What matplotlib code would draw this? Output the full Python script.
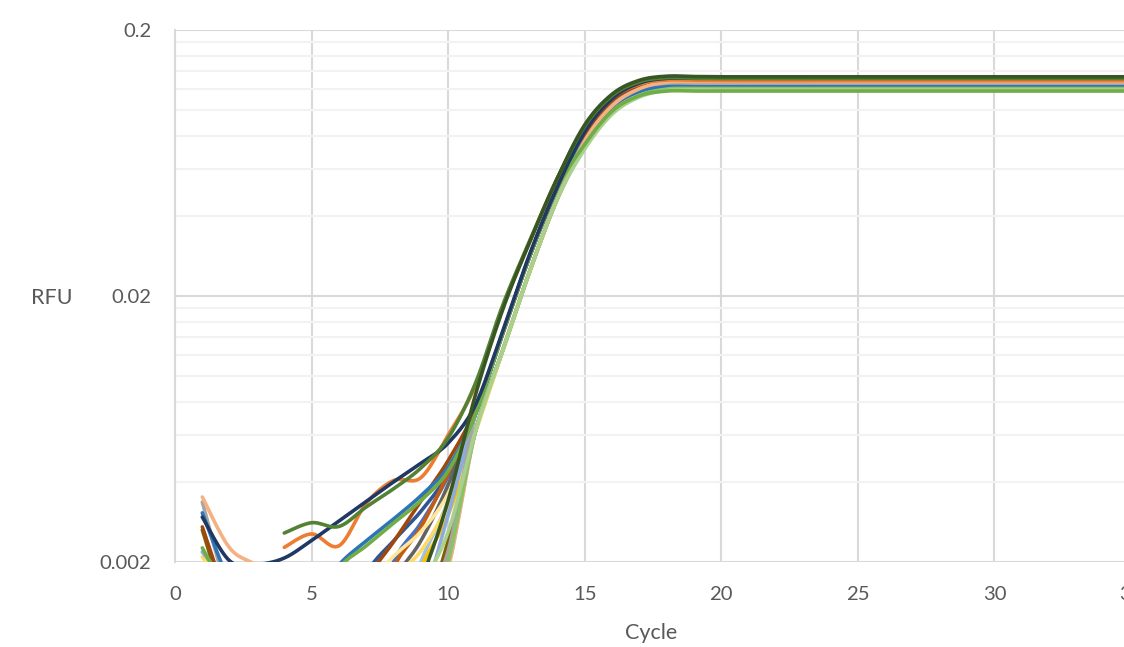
import numpy as np
import matplotlib
matplotlib.use("Agg")
import matplotlib.pyplot as plt
from matplotlib.ticker import FixedLocator, NullFormatter

nan = float("nan")

# RFU per cycle (cycles 1..35)
cycles = list(range(1, 36))

rfu_01 = [nan, nan, nan, 0.00257, 0.00281, 0.00272, 0.00322, 0.00377, 0.00451, 0.00585,
          0.0094, 0.0185, 0.0325, 0.0555, 0.0869, 0.1132, 0.1277, 0.1323, 0.1319, 0.1316,
          0.1316, 0.1316, 0.1316, 0.1316, 0.1316, 0.1316, 0.1316, 0.1316, 0.1316, 0.1316,
          0.1316, 0.1316, 0.1316, 0.1316, 0.1316]
rfu_02 = [nan, nan, nan, 0.00227, 0.00255, 0.00230, 0.00332, 0.00405, 0.00415, 0.0060,
          0.0092, 0.0182, 0.0322, 0.0555, 0.0852, 0.1110, 0.1252, 0.1297, 0.1294, 0.1291,
          0.1291, 0.1291, 0.1291, 0.1291, 0.1291, 0.1291, 0.1291, 0.1291, 0.1291, 0.1291,
          0.1291, 0.1291, 0.1291, 0.1291, 0.1291]
rfu_03 = [0.00295, 0.00202, 0.00196, 0.00207, 0.00241, 0.00285, 0.00338, 0.0040, 0.0047, 0.0056,
          0.0078, 0.0148, 0.0290, 0.0515, 0.0829, 0.1105, 0.1263, 0.1316, 0.1316, 0.1316,
          0.1316, 0.1316, 0.1316, 0.1316, 0.1316, 0.1316, 0.1316, 0.1316, 0.1316, 0.1316,
          0.1316, 0.1316, 0.1316, 0.1316, 0.1316]
rfu_04 = [0.00351, 0.00226, 0.00194, 0.0016, 0.0012, 0.0010, 0.0010, 0.0010, 0.0011, 0.0019,
          0.0062, 0.0125, 0.0250, 0.0465, 0.0767, 0.1036, 0.1202, 0.1273, 0.1279, 0.1279,
          0.1279, 0.1279, 0.1279, 0.1279, 0.1279, 0.1279, 0.1279, 0.1279, 0.1279, 0.1279,
          0.1279, 0.1279, 0.1279, 0.1279, 0.1279]
rfu_05 = [0.00336, 0.0015, 0.0011, 0.0010, 0.0010, 0.0010, 0.0010, 0.0010, 0.0013, 0.0022,
          0.0072, 0.0145, 0.0285, 0.0510, 0.0796, 0.1062, 0.1213, 0.1264, 0.1264, 0.1264,
          0.1264, 0.1264, 0.1264, 0.1264, 0.1264, 0.1264, 0.1264, 0.1264, 0.1264, 0.1264,
          0.1264, 0.1264, 0.1264, 0.1264, 0.1264]
rfu_06 = [0.00306, 0.0017, 0.0013, 0.0012, 0.0014, 0.00195, 0.0024, 0.0029, 0.00355, 0.00455,
          0.0072, 0.0145, 0.0285, 0.0510, 0.0771, 0.1028, 0.1175, 0.1224, 0.1224, 0.1224,
          0.1224, 0.1224, 0.1224, 0.1224, 0.1224, 0.1224, 0.1224, 0.1224, 0.1224, 0.1224,
          0.1224, 0.1224, 0.1224, 0.1224, 0.1224]
rfu_07 = [0.00271, 0.0014, 0.0010, 0.0010, 0.0010, 0.0010, 0.0017, 0.00238, 0.00339, 0.00481,
          0.0075, 0.0145, 0.0285, 0.0510, 0.0813, 0.1084, 0.1239, 0.1291, 0.1291, 0.1291,
          0.1291, 0.1291, 0.1291, 0.1291, 0.1291, 0.1291, 0.1291, 0.1291, 0.1291, 0.1291,
          0.1291, 0.1291, 0.1291, 0.1291, 0.1291]
rfu_08 = [0.00264, 0.0013, 0.0010, 0.0010, 0.0010, 0.0010, 0.0010, 0.0010, 0.0012, 0.0024,
          0.0062, 0.0125, 0.0250, 0.0465, 0.0741, 0.1000, 0.1161, 0.1229, 0.1235, 0.1235,
          0.1235, 0.1235, 0.1235, 0.1235, 0.1235, 0.1235, 0.1235, 0.1235, 0.1235, 0.1235,
          0.1235, 0.1235, 0.1235, 0.1235, 0.1235]
rfu_09 = [0.00226, 0.0015, 0.0012, 0.0011, 0.0013, 0.0019, 0.0023, 0.0028, 0.0034, 0.0044,
          0.0072, 0.0145, 0.0285, 0.0510, 0.0743, 0.0990, 0.1132, 0.1179, 0.1179, 0.1179,
          0.1179, 0.1179, 0.1179, 0.1179, 0.1179, 0.1179, 0.1179, 0.1179, 0.1179, 0.1179,
          0.1179, 0.1179, 0.1179, 0.1179, 0.1179]
rfu_10 = [0.00218, 0.0016, 0.0010, 0.0010, 0.0010, 0.0010, 0.0010, 0.0010, 0.0014, 0.0030,
          0.0072, 0.0145, 0.0285, 0.0510, 0.0771, 0.1028, 0.1175, 0.1224, 0.1224, 0.1224,
          0.1224, 0.1224, 0.1224, 0.1224, 0.1224, 0.1224, 0.1224, 0.1224, 0.1224, 0.1224,
          0.1224, 0.1224, 0.1224, 0.1224, 0.1224]
rfu_11 = [0.00209, 0.0015, 0.0010, 0.0010, 0.0010, 0.0010, 0.0010, 0.0017, 0.0022, 0.0033,
          0.0062, 0.0125, 0.0250, 0.0465, 0.0741, 0.1000, 0.1161, 0.1229, 0.1235, 0.1235,
          0.1235, 0.1235, 0.1235, 0.1235, 0.1235, 0.1235, 0.1235, 0.1235, 0.1235, 0.1235,
          0.1235, 0.1235, 0.1235, 0.1235, 0.1235]
rfu_12 = [0.0012, 0.0010, 0.0010, 0.0010, 0.0010, 0.0010, 0.0010, 0.0020, 0.0028, 0.0042,
          0.0072, 0.0145, 0.0285, 0.0510, 0.0829, 0.1105, 0.1263, 0.1316, 0.1316, 0.1316,
          0.1316, 0.1316, 0.1316, 0.1316, 0.1316, 0.1316, 0.1316, 0.1316, 0.1316, 0.1316,
          0.1316, 0.1316, 0.1316, 0.1316, 0.1316]
rfu_13 = [0.0012, 0.0010, 0.0010, 0.0010, 0.0010, 0.0010, 0.0010, 0.0017, 0.0024, 0.0039,
          0.0072, 0.0145, 0.0285, 0.0510, 0.0796, 0.1062, 0.1213, 0.1264, 0.1264, 0.1264,
          0.1264, 0.1264, 0.1264, 0.1264, 0.1264, 0.1264, 0.1264, 0.1264, 0.1264, 0.1264,
          0.1264, 0.1264, 0.1264, 0.1264, 0.1264]
rfu_14 = [0.0012, 0.0010, 0.0010, 0.0010, 0.0010, 0.0010, 0.0010, 0.0010, 0.0020, 0.0034,
          0.0072, 0.0145, 0.0285, 0.0510, 0.0771, 0.1028, 0.1175, 0.1224, 0.1224, 0.1224,
          0.1224, 0.1224, 0.1224, 0.1224, 0.1224, 0.1224, 0.1224, 0.1224, 0.1224, 0.1224,
          0.1224, 0.1224, 0.1224, 0.1224, 0.1224]
rfu_15 = [0.0012, 0.0010, 0.0010, 0.0010, 0.0010, 0.0010, 0.0010, 0.0010, 0.0019, 0.0030,
          0.0062, 0.0125, 0.0250, 0.0465, 0.0741, 0.1000, 0.1161, 0.1229, 0.1235, 0.1235,
          0.1235, 0.1235, 0.1235, 0.1235, 0.1235, 0.1235, 0.1235, 0.1235, 0.1235, 0.1235,
          0.1235, 0.1235, 0.1235, 0.1235, 0.1235]
rfu_16 = [0.0012, 0.0010, 0.0010, 0.0010, 0.0010, 0.0010, 0.0010, 0.0010, 0.0016, 0.0026,
          0.0062, 0.0125, 0.0250, 0.0465, 0.0714, 0.0964, 0.1119, 0.1184, 0.1190, 0.1190,
          0.1190, 0.1190, 0.1190, 0.1190, 0.1190, 0.1190, 0.1190, 0.1190, 0.1190, 0.1190,
          0.1190, 0.1190, 0.1190, 0.1190, 0.1190]
rfu_17 = [0.0012, 0.0010, 0.0010, 0.0010, 0.0010, 0.0010, 0.0010, 0.0010, 0.0017, 0.0034,
          0.0085, 0.0178, 0.0322, 0.0555, 0.0880, 0.1147, 0.1294, 0.1341, 0.1337, 0.1334,
          0.1334, 0.1334, 0.1334, 0.1334, 0.1334, 0.1334, 0.1334, 0.1334, 0.1334, 0.1334,
          0.1334, 0.1334, 0.1334, 0.1334, 0.1334]
rfu_18 = [0.0012, 0.0010, 0.0010, 0.0010, 0.0010, 0.0010, 0.0010, 0.0010, 0.0010, 0.0021,
          0.0062, 0.0125, 0.0250, 0.0465, 0.0758, 0.1024, 0.1188, 0.1258, 0.1264, 0.1264,
          0.1264, 0.1264, 0.1264, 0.1264, 0.1264, 0.1264, 0.1264, 0.1264, 0.1264, 0.1264,
          0.1264, 0.1264, 0.1264, 0.1264, 0.1264]
rfu_19 = [0.0012, 0.0010, 0.0010, 0.0010, 0.0010, 0.0010, 0.0010, 0.0010, 0.0010, 0.0022,
          0.0062, 0.0125, 0.0250, 0.0465, 0.0741, 0.1000, 0.1161, 0.1229, 0.1235, 0.1235,
          0.1235, 0.1235, 0.1235, 0.1235, 0.1235, 0.1235, 0.1235, 0.1235, 0.1235, 0.1235,
          0.1235, 0.1235, 0.1235, 0.1235, 0.1235]
rfu_20 = [0.0012, 0.0010, 0.0010, 0.0010, 0.0010, 0.0010, 0.0018, 0.0024, 0.0031, 0.0043,
          0.0072, 0.0145, 0.0285, 0.0510, 0.0829, 0.1105, 0.1263, 0.1316, 0.1316, 0.1316,
          0.1316, 0.1316, 0.1316, 0.1316, 0.1316, 0.1316, 0.1316, 0.1316, 0.1316, 0.1316,
          0.1316, 0.1316, 0.1316, 0.1316, 0.1316]
rfu_21 = [0.0012, 0.0010, 0.0010, 0.0010, 0.0010, 0.0010, 0.0010, 0.0019, 0.0027, 0.0043,
          0.0072, 0.0145, 0.0285, 0.0510, 0.0813, 0.1084, 0.1239, 0.1291, 0.1291, 0.1291,
          0.1291, 0.1291, 0.1291, 0.1291, 0.1291, 0.1291, 0.1291, 0.1291, 0.1291, 0.1291,
          0.1291, 0.1291, 0.1291, 0.1291, 0.1291]
rfu_22 = [0.0012, 0.0010, 0.0010, 0.0010, 0.0010, 0.0010, 0.0010, 0.0010, 0.0010, 0.0020,
          0.0062, 0.0125, 0.0250, 0.0465, 0.0723, 0.0976, 0.1133, 0.1199, 0.1205, 0.1205,
          0.1205, 0.1205, 0.1205, 0.1205, 0.1205, 0.1205, 0.1205, 0.1205, 0.1205, 0.1205,
          0.1205, 0.1205, 0.1205, 0.1205, 0.1205]
rfu_23 = [0.0012, 0.0010, 0.0010, 0.0010, 0.0010, 0.0010, 0.0016, 0.0021, 0.0026, 0.0036,
          0.0062, 0.0125, 0.0250, 0.0465, 0.0741, 0.1000, 0.1161, 0.1229, 0.1235, 0.1235,
          0.1235, 0.1235, 0.1235, 0.1235, 0.1235, 0.1235, 0.1235, 0.1235, 0.1235, 0.1235,
          0.1235, 0.1235, 0.1235, 0.1235, 0.1235]
rfu_24 = [0.0012, 0.0010, 0.0010, 0.0010, 0.0010, 0.0010, 0.0010, 0.0010, 0.0010, 0.0019,
          0.0062, 0.0125, 0.0250, 0.0465, 0.0734, 0.0991, 0.1151, 0.1218, 0.1224, 0.1224,
          0.1224, 0.1224, 0.1224, 0.1224, 0.1224, 0.1224, 0.1224, 0.1224, 0.1224, 0.1224,
          0.1224, 0.1224, 0.1224, 0.1224, 0.1224]

# drawing order: first drawn sits underneath
wells = [rfu_12, rfu_20, rfu_21, rfu_13, rfu_18, rfu_19, rfu_23, rfu_24, rfu_14, rfu_15,
         rfu_08, rfu_11, rfu_10, rfu_05, rfu_07, rfu_06, rfu_04, rfu_22, rfu_16, rfu_09,
         rfu_02, rfu_03, rfu_01, rfu_17]
colors = ["#4472C4", "#2F5597", "#C55A11", "#636363", "#C9C9C9", "#BF9000", "#FFE699", "#B4C7E7",
          "#9DC3E6", "#FFC000", "#7F6000", "#FFD966", "#8FAADC", "#A5A5A5", "#9E480E", "#2E75B6",
          "#F4B183", "#8CC168", "#A9D18E", "#70AD47", "#ED7D31", "#203864", "#548235", "#375623"]

y_ticks = [0.002, 0.02, 0.2]
y_labels = ["0.002", "0.02", "0.2"]
x_ticks = [0, 5, 10, 15, 20, 25, 30, 35]


# Excel style smoothed line: bezier through points, done in (x, log y)
def smooth(xs, ys, n=14):
    xs = np.asarray(xs, float)
    ys = np.asarray(ys, float)
    ok = np.isfinite(ys)
    runs = []
    i = 0
    while i < len(xs):
        if not ok[i]:
            i += 1
            continue
        j = i
        while j < len(xs) and ok[j]:
            j += 1
        runs.append((i, j))
        i = j
    out = []
    for a, b in runs:
        pts = np.column_stack([xs[a:b], np.log10(ys[a:b])])
        if len(pts) < 2:
            continue
        segs = []
        for k in range(len(pts) - 1):
            p0 = pts[max(k - 1, 0)]
            p1 = pts[k]
            p2 = pts[k + 1]
            p3 = pts[min(k + 2, len(pts) - 1)]
            c1 = p1 + (p2 - p0) / 6.0
            c2 = p2 - (p3 - p1) / 6.0
            t = np.linspace(0, 1, n, endpoint=False)[:, None]
            segs.append((1 - t) ** 3 * p1 + 3 * (1 - t) ** 2 * t * c1
                        + 3 * (1 - t) * t ** 2 * c2 + t ** 3 * p2)
        segs.append(pts[-1:])
        arr = np.vstack(segs)
        out.append((arr[:, 0], 10 ** arr[:, 1]))
    return out


plt.rcParams['font.family'] = ['Lato', 'DejaVu Sans']

fig = plt.figure(figsize=(11.24, 6.47), dpi=100)
ax = fig.add_axes([175 / 1124, 85 / 647, 956 / 1124, 532 / 647])

for vals, col in zip(wells, colors):
    for sx, sy in smooth(cycles, vals):
        ax.plot(sx, sy, color=col, lw=2.6, solid_capstyle='round', zorder=3)

ax.set_yscale('log')
ax.set_ylim(0.002, 0.2)
ax.set_xlim(0, 35)

ax.set_yticks(y_ticks)
ax.set_yticklabels(y_labels)
minor = [0.002 * k for k in range(2, 10)] + [0.02 * k for k in range(2, 10)]
ax.yaxis.set_minor_locator(FixedLocator(minor))
ax.yaxis.set_minor_formatter(NullFormatter())
ax.set_xticks(x_ticks)
ax.set_xticklabels([str(v) for v in x_ticks])

ax.grid(which='major', color='#D9D9D9', lw=1.5, zorder=0)
ax.grid(which='minor', axis='y', color='#F2F2F2', lw=1.5, zorder=0)
ax.set_axisbelow(True)

for s in ['top', 'right', 'bottom']:
    ax.spines[s].set_visible(False)
ax.spines['left'].set_color('#D9D9D9')
ax.spines['left'].set_linewidth(1.5)

ax.tick_params(which='both', length=0, labelcolor='#595959', labelsize=14.6)
ax.tick_params(axis='y', pad=17)
ax.tick_params(axis='x', pad=17)

fig.text(52 / 1124, 1 - 304 / 647, "RFU", ha='center', va='baseline', fontsize=15.5, color='#595959')
fig.text(651 / 1124, 1 - 639 / 647, "Cycle", ha='center', va='baseline', fontsize=15.5, color='#595959')

fig.savefig("out.png", dpi=100)
